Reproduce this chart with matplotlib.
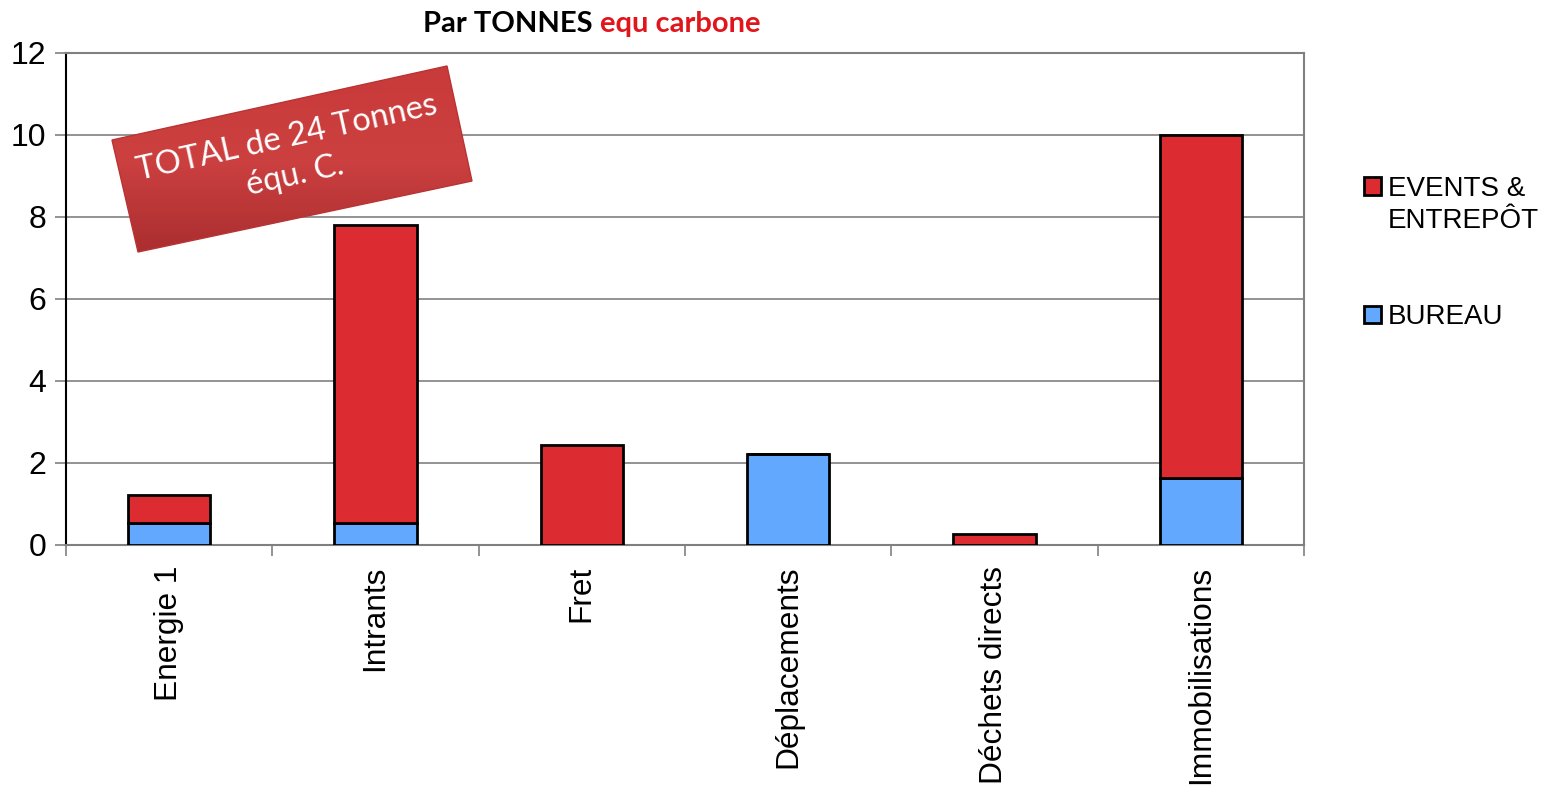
import numpy as np
import matplotlib.pyplot as plt
from matplotlib.patches import Rectangle, Polygon
from matplotlib.colors import LinearSegmentedColormap

categories = ['Energie 1', 'Intrants', 'Fret', 'Déplacements', 'Déchets directs', 'Immobilisations']
bureau = [0.53, 0.53, 0.0, 2.22, 0.0, 1.63]
events = [0.69, 7.28, 2.44, 0.0, 0.26, 8.36]
yticks = [0, 2, 4, 6, 8, 10, 12]

red = '#DC2C32'
blue = '#62A8FF'

plt.rcParams['font.family'] = ['Liberation Sans', 'DejaVu Sans']

fig = plt.figure(figsize=(15.41, 7.92), dpi=100)
ax = fig.add_axes([66 / 1541, 1 - 545 / 792, (1304 - 66) / 1541, (545 - 53) / 792])

x = np.arange(len(categories))
ax.bar(x, bureau, width=0.4, color=blue, edgecolor='black', linewidth=2, zorder=3)
ax.bar(x, events, width=0.4, bottom=bureau, color=red, edgecolor='black', linewidth=2, zorder=3)

ax.set_xlim(-0.5, len(categories) - 0.5)
ax.set_ylim(0, 12)
ax.set_yticks(yticks)
ax.set_yticklabels([str(v) for v in yticks], fontsize=23)
ax.set_xticks(x)
ax.set_xticklabels(categories, rotation=90, fontsize=22.8)
ax.tick_params(axis='x', length=0, pad=15)
ax.set_xticks(np.arange(-0.5, len(categories)), minor=True)
ax.tick_params(axis='x', which='minor', length=8, color='#808080', width=1.2)
ax.tick_params(axis='y', length=8, color='#808080', width=1.2, pad=6)
ax.yaxis.grid(True, color='#808080', linewidth=1.2, zorder=0)
ax.set_axisbelow(True)
for side in ['top', 'right', 'bottom']:
    ax.spines[side].set_color('#808080')
    ax.spines[side].set_linewidth(1.5)
ax.spines['left'].set_color('black')
ax.spines['left'].set_linewidth(1.5)

# title in two colours
fig.text(593 / 1541, 1 - 24 / 792, 'Par TONNES', fontsize=21, fontweight='bold',
         family='Lato', ha='right', va='center', color='black')
fig.text(600 / 1541, 1 - 24 / 792, 'equ carbone', fontsize=21, fontweight='bold',
         family='Lato', ha='left', va='center', color='#E0161C')

# legend (blank rows give the gap between the two series)
blank = Rectangle((0, 0), 1, 1, visible=False)
handles = [Rectangle((0, 0), 1, 1, facecolor=red, edgecolor='black', linewidth=2),
           blank, blank, blank,
           Rectangle((0, 0), 1, 1, facecolor=blue, edgecolor='black', linewidth=2)]
labels = ['EVENTS &', 'ENTREPÔT', ' ', ' ', 'BUREAU']
fig.legend(handles, labels, loc='upper left', bbox_to_anchor=(1364 / 1541, 1 - 176 / 792),
           frameon=False, fontsize=20, handlelength=0.6, handleheight=0.6,
           handletextpad=0.25, labelspacing=0.22, borderpad=0, borderaxespad=0)

# rotated red callout box
over = fig.add_axes([0, 0, 1, 1], zorder=5)
over.set_xlim(0, 1541)
over.set_ylim(792, 0)
over.axis('off')
corners = [(112, 140), (447, 66), (472, 181), (138, 252)]
poly = Polygon(corners, closed=True, facecolor='none', edgecolor='#B83434', linewidth=1,
               transform=over.transData)
over.add_patch(poly)
cmap = LinearSegmentedColormap.from_list('box', ['#C93A3A', '#CC4040', '#A82C2E'])
grad = np.linspace(0, 1, 256).reshape(-1, 1)
im = over.imshow(grad, extent=(100, 480, 260, 60), cmap=cmap, aspect='auto', origin='upper')
im.set_clip_path(poly)
over.set_xlim(0, 1541)
over.set_ylim(792, 0)
over.text(291, 157, 'TOTAL de 24 Tonnes\néqu. C.', rotation=12.5, rotation_mode='anchor',
          ha='center', va='center', color='white', fontsize=23.5, family='Lato',
          multialignment='center', linespacing=1.35)

fig.savefig('out.png', dpi=100)
